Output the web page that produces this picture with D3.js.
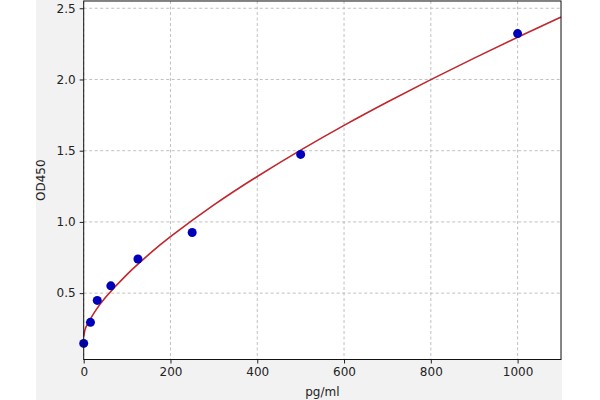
<!DOCTYPE html>
<html><head><meta charset="utf-8">
<script src="https://cdn.jsdelivr.net/npm/d3@7"></script>
<style>body{margin:0;background:#fff}svg{display:block}</style>
</head><body>
<script>
const concentrations = [0, 15.6, 31.25, 62.5, 125, 250, 500, 1000];
const odValues = [0.147, 0.295, 0.449, 0.551, 0.74, 0.926, 1.474, 2.322];
const curveX = [0, 2, 5, 10, 25, 50, 100, 150, 200, 300, 400, 500, 600, 700, 800, 900, 1000, 1100];
const curveY = [0.195, 0.23, 0.26, 0.29, 0.367, 0.469, 0.632, 0.771, 0.896, 1.119, 1.319, 1.504, 1.678, 1.842, 1.999, 2.150, 2.296, 2.438];
const xTicks = [0, 200, 400, 600, 800, 1000];
const yTicks = [0.5, 1.0, 1.5, 2.0, 2.5];

const W = 600, H = 400;
const m = {l: 83.7, r: 561, t: 1, b: 359.5};
const svg = d3.select("body").append("svg").attr("width", W).attr("height", H);
svg.append("rect").attr("x", 36).attr("y", 0).attr("width", 562 - 36).attr("height", 400).attr("fill", "#f2f2f2");

const x = d3.scaleLinear().domain([0, 1100]).range([m.l, m.r]);
const y = d3.scaleLinear().domain([0.034, 2.551]).range([m.b, m.t]);

svg.append("rect").attr("x", m.l).attr("y", m.t).attr("width", m.r - m.l).attr("height", m.b - m.t).attr("fill", "#fff");

const grid = svg.append("g").attr("stroke", "#b0b0b0").attr("stroke-width", 0.8).attr("stroke-dasharray", "3,2.5");
grid.selectAll(".vx").data(xTicks).join("line").attr("x1", d => x(d)).attr("x2", d => x(d)).attr("y1", m.t).attr("y2", m.b);
grid.selectAll(".hy").data(yTicks).join("line").attr("y1", d => y(d)).attr("y2", d => y(d)).attr("x1", m.l).attr("x2", m.r);

const font = "DejaVu Sans, sans-serif";
const xAxis = svg.append("g").attr("transform", `translate(0,${m.b})`)
  .call(d3.axisBottom(x).tickValues(xTicks).tickFormat(d3.format("d")).tickSize(4).tickPadding(4));
const yAxis = svg.append("g").attr("transform", `translate(${m.l},0)`)
  .call(d3.axisLeft(y).tickValues(yTicks).tickFormat(d3.format(".1f")).tickSize(4).tickPadding(4));
[xAxis, yAxis].forEach(a => {
  a.select(".domain").remove();
  a.selectAll("text").attr("font-family", font).attr("font-size", 12).attr("fill", "#222");
  a.selectAll("line").attr("stroke", "#222");
});

const line = d3.line().x((d, i) => x(curveX[i])).y(d => y(d)).curve(d3.curveNatural);
svg.append("path").datum(curveY).attr("d", line).attr("fill", "none").attr("stroke", "#c0262c").attr("stroke-width", 1.6);

svg.append("g").selectAll("circle").data(odValues).join("circle")
  .attr("cx", (d, i) => x(concentrations[i])).attr("cy", d => y(d)).attr("r", 4.5).attr("fill", "#0000bb");

svg.append("rect").attr("x", m.l).attr("y", m.t).attr("width", m.r - m.l).attr("height", m.b - m.t)
  .attr("fill", "none").attr("stroke", "#111").attr("stroke-width", 1);

svg.append("text").attr("x", (m.l + m.r) / 2).attr("y", 396).attr("text-anchor", "middle")
  .attr("font-family", font).attr("font-size", 12).attr("fill", "#222").text("pg/ml");
svg.append("text").attr("transform", `translate(45,${(m.t + m.b) / 2}) rotate(-90)`).attr("text-anchor", "middle")
  .attr("font-family", font).attr("font-size", 12).attr("fill", "#222").text("OD450");
</script>
</body></html>
